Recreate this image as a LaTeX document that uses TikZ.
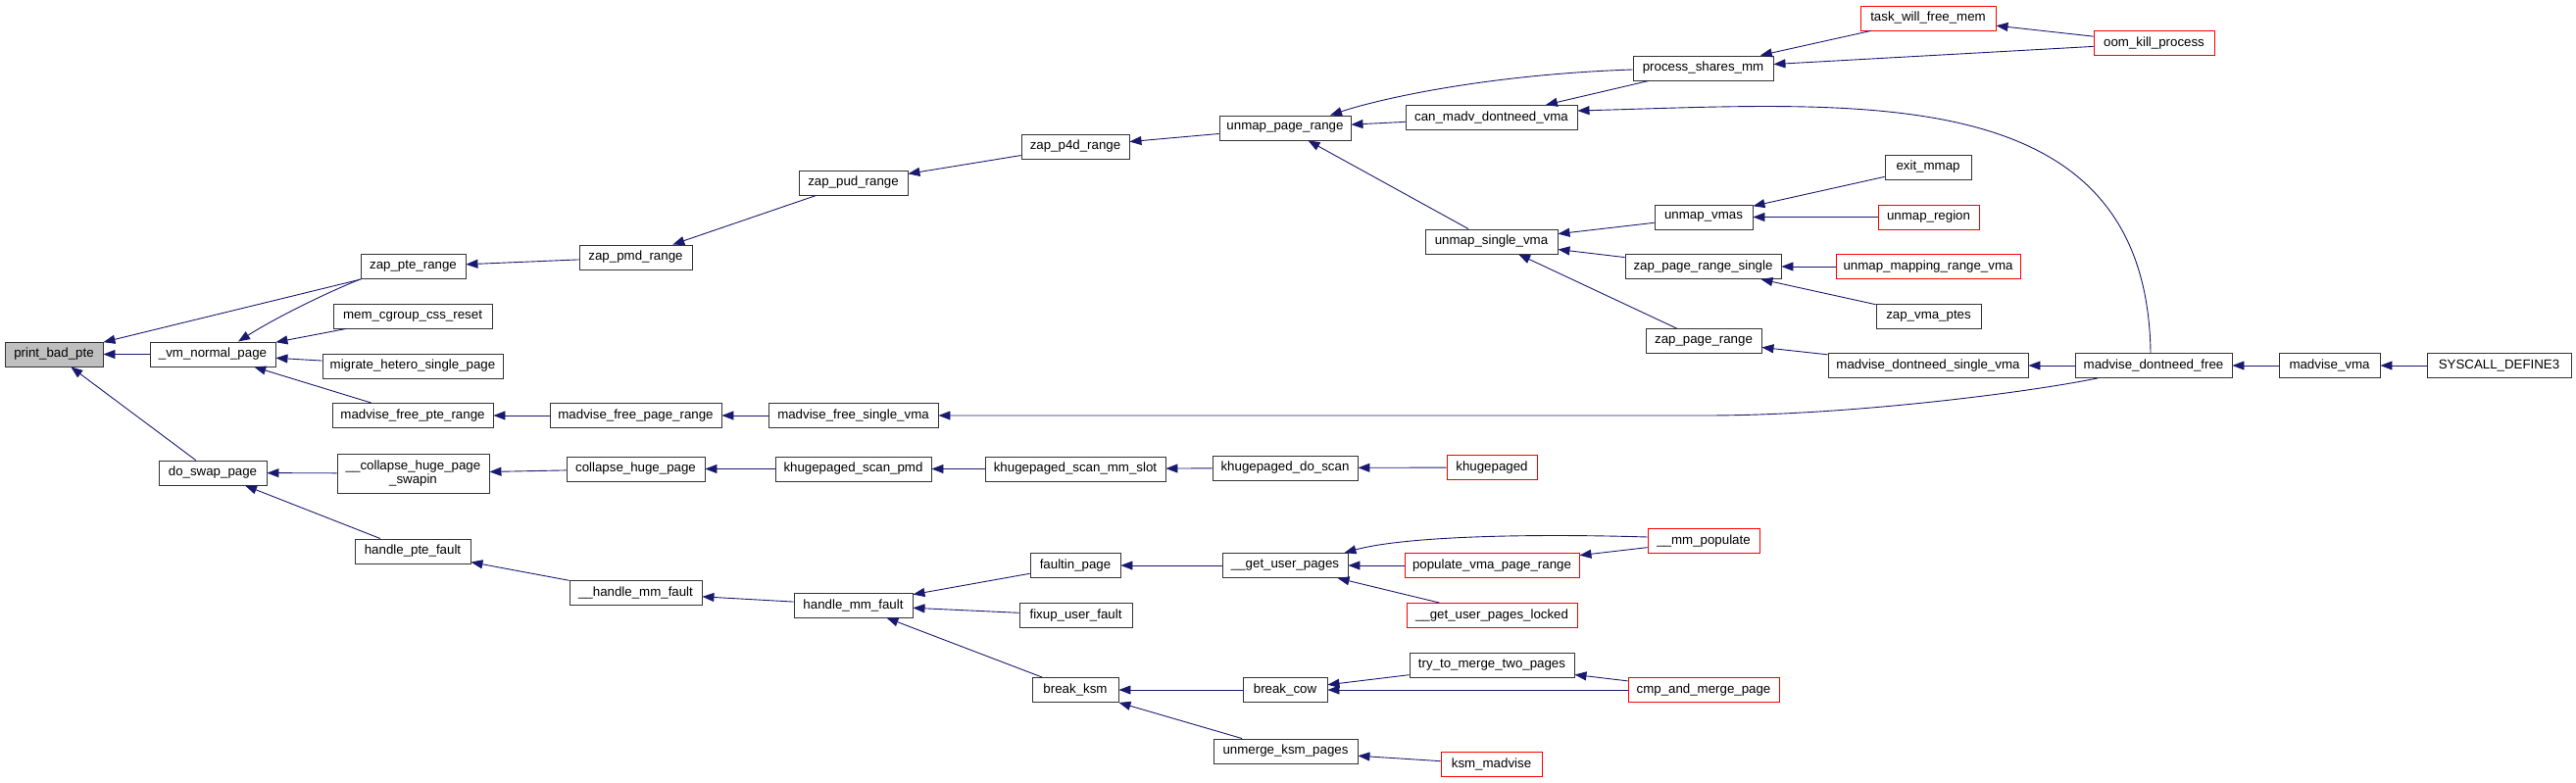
\documentclass[tikz,border=0pt]{standalone}
\usepackage{fontspec}
\usetikzlibrary{arrows.meta}
\newfontfamily\dotfont{Liberation Sans}
\definecolor{edgeblue}{HTML}{191970}
\definecolor{rootgray}{HTML}{BFBFBF}
\tikzset{
  fn/.style={draw=black!80, line width=0.9pt, fill=white, minimum height=25pt,
    inner sep=0pt, font=\dotfont\fontsize{13.3}{14}\selectfont},
  fnred/.style={fn, draw=red},
  call/.style={<-, edgeblue, line width=0.9pt},
}
\begin{document}
\begin{tikzpicture}[x=1pt, y=-1pt, >={Triangle[length=12pt,width=9pt]}]
        \useasboundingbox (0,0) rectangle (2628,799);

        % Root and first callers
        \node[fn, fill=rootgray, minimum width=100pt] (pbp) at (55,361.5) {print\_bad\_pte};
        \node[fn, minimum width=128pt] (vmn) at (217,361.5) {\_vm\_normal\_page};
        \node[fn, minimum width=110pt] (dsp) at (217,482.5) {do\_swap\_page};

        \node[fn, minimum width=107pt] (zpte) at (421.5,272) {zap\_pte\_range};
        \node[fn, minimum width=162pt] (mcg) at (421,322.5) {mem\_cgroup\_css\_reset};
        \node[fn, minimum width=184pt] (mhsp) at (421,373.5) {migrate\_hetero\_single\_page};
        \node[fn, minimum width=164pt] (mfpte) at (421,424) {madvise\_free\_pte\_range};
        \node[fn, minimum width=155pt, minimum height=40pt, align=center] (chps) at (421.5,483) {\_\_collapse\_huge\_page\\\_swapin};
        \node[fn, minimum width=118pt] (hpf) at (421,562.5) {handle\_pte\_fault};

        \node[fn, minimum width=115pt] (zpmd) at (648.5,262.5) {zap\_pmd\_range};
        \node[fn, minimum width=175pt] (mfpr) at (648.5,424) {madvise\_free\_page\_range};
        \node[fn, minimum width=141pt] (chp) at (648.5,478.5) {collapse\_huge\_page};
        \node[fn, minimum width=135pt] (hmmfi) at (648.5,605) {\_\_handle\_mm\_fault};

        \node[fn, minimum width=111pt] (zpud) at (870.5,186.5) {zap\_pud\_range};
        \node[fn, minimum width=173pt] (mfsv) at (870.5,424) {madvise\_free\_single\_vma};
        \node[fn, minimum width=159pt] (khsp) at (870.5,478.5) {khugepaged\_scan\_pmd};
        \node[fn, minimum width=121pt] (hmmf) at (870.5,617.5) {handle\_mm\_fault};

        \node[fn, minimum width=110pt] (zp4d) at (1097,149.5) {zap\_p4d\_range};
        \node[fn, minimum width=184pt] (khsms) at (1097,478.5) {khugepaged\_scan\_mm\_slot};
        \node[fn, minimum width=92pt] (fp) at (1097,577) {faultin\_page};
        \node[fn, minimum width=115pt] (fuf) at (1097.5,628) {fixup\_user\_fault};
        \node[fn, minimum width=88pt] (bksm) at (1097,704) {break\_ksm};

        \node[fn, minimum width=134pt] (upr) at (1311,130.5) {unmap\_page\_range};
        \node[fn, minimum width=148pt] (khds) at (1311,477.5) {khugepaged\_do\_scan};
        \node[fn, minimum width=128pt] (gup) at (1311,577) {\_\_get\_user\_pages};
        \node[fn, minimum width=86pt] (bcow) at (1311,704) {break\_cow};
        \node[fn, minimum width=147pt] (uksm) at (1311.5,766.5) {unmerge\_ksm\_pages};

        \node[fn, minimum width=175pt] (cmdv) at (1521.5,120) {can\_madv\_dontneed\_vma};
        \node[fn, minimum width=135pt] (usv) at (1521.5,246.5) {unmap\_single\_vma};
        \node[fnred, minimum width=92pt] (khd) at (1522,477) {khugepaged};
        \node[fnred, minimum width=178pt] (pvpr) at (1522,577) {populate\_vma\_page\_range};
        \node[fnred, minimum width=174pt] (gupl) at (1522,628) {\_\_get\_user\_pages\_locked};
        \node[fn, minimum width=168pt] (ttm) at (1522,678.5) {try\_to\_merge\_two\_pages};
        \node[fnred, minimum width=103pt] (ksmm) at (1521.5,780) {ksm\_madvise};

        \node[fn, minimum width=143pt] (psm) at (1737.5,69.5) {process\_shares\_mm};
        \node[fn, minimum width=100pt] (uvmas) at (1738,221.5) {unmap\_vmas};
        \node[fn, minimum width=159pt] (zprs) at (1737.5,272) {zap\_page\_range\_single};
        \node[fn, minimum width=118pt] (zpr) at (1738,348) {zap\_page\_range};
        \node[fnred, minimum width=114pt] (mmpop) at (1738,552) {\_\_mm\_populate};
        \node[fnred, minimum width=154pt] (cmp) at (1738,704) {cmp\_and\_merge\_page};

        \node[fnred, minimum width=138pt] (twfm) at (1967,18.5) {task\_will\_free\_mem};
        \node[fn, minimum width=88pt] (exm) at (1967,170.5) {exit\_mmap};
        \node[fnred, minimum width=103pt] (ureg) at (1967.5,221.5) {unmap\_region};
        \node[fnred, minimum width=188pt] (umrv) at (1967,272) {unmap\_mapping\_range\_vma};
        \node[fn, minimum width=107pt] (zvp) at (1967.5,322.5) {zap\_vma\_ptes};
        \node[fn, minimum width=204pt] (mdsv) at (1967,373) {madvise\_dontneed\_single\_vma};

        \node[fnred, minimum width=123pt] (oom) at (2197.5,44) {oom\_kill\_process};
        \node[fn, minimum width=160pt] (mdf) at (2197,373) {madvise\_dontneed\_free};
        \node[fn, minimum width=103pt] (mvma) at (2376.5,373) {madvise\_vma};
        \node[fn, minimum width=147pt] (sys) at (2549.5,373) {SYSCALL\_DEFINE3};

        % Straight calls (callee/caller)
        \foreach \a/\b in {pbp/vmn, pbp/zpte, pbp/dsp, vmn/mcg, vmn/mhsp, vmn/mfpte,
            zpte/zpmd, zpmd/zpud, zpud/zp4d, zp4d/upr, upr/cmdv, upr/usv,
            cmdv/psm, psm/twfm, psm/oom, twfm/oom,
            usv/uvmas, usv/zprs, usv/zpr, uvmas/exm, uvmas/ureg, zprs/umrv, zprs/zvp,
            zpr/mdsv, mdsv/mdf, mdf/mvma, mvma/sys, mfpte/mfpr, mfpr/mfsv,
            dsp/chps, dsp/hpf, chps/chp, chp/khsp, khsp/khsms, khsms/khds, khds/khd,
            hpf/hmmfi, hmmfi/hmmf, hmmf/fp, hmmf/fuf, hmmf/bksm,
            fp/gup, gup/pvpr, gup/gupl, pvpr/mmpop,
            bksm/bcow, bksm/uksm, bcow/ttm, bcow/cmp, ttm/cmp, uksm/ksmm} {
            \draw[call] (\a) -- (\b);
        }

        % Curved calls
        \draw[call] ([xshift=26pt]vmn.north) .. controls (280,325) and (330,300) .. (zpte.south west);
        \draw[call] ([xshift=46pt]upr.north) .. controls (1410,100) and (1520,76) .. ([yshift=-1.5pt]psm.west);
        \draw[call] ([yshift=7pt]cmdv.east) .. controls (1900,105) and (2190,80) .. ([xshift=-3pt]mdf.north);
        \draw[call] (mfsv.east) -- (1740,424) .. controls (1880,424) and (2060,402) .. ([xshift=-57pt]mdf.south);
        \draw[call] ([xshift=-4pt]gup.north east) .. controls (1430,548) and (1550,544) .. ([yshift=4pt]mmpop.west);
    \end{tikzpicture}
\end{document}
